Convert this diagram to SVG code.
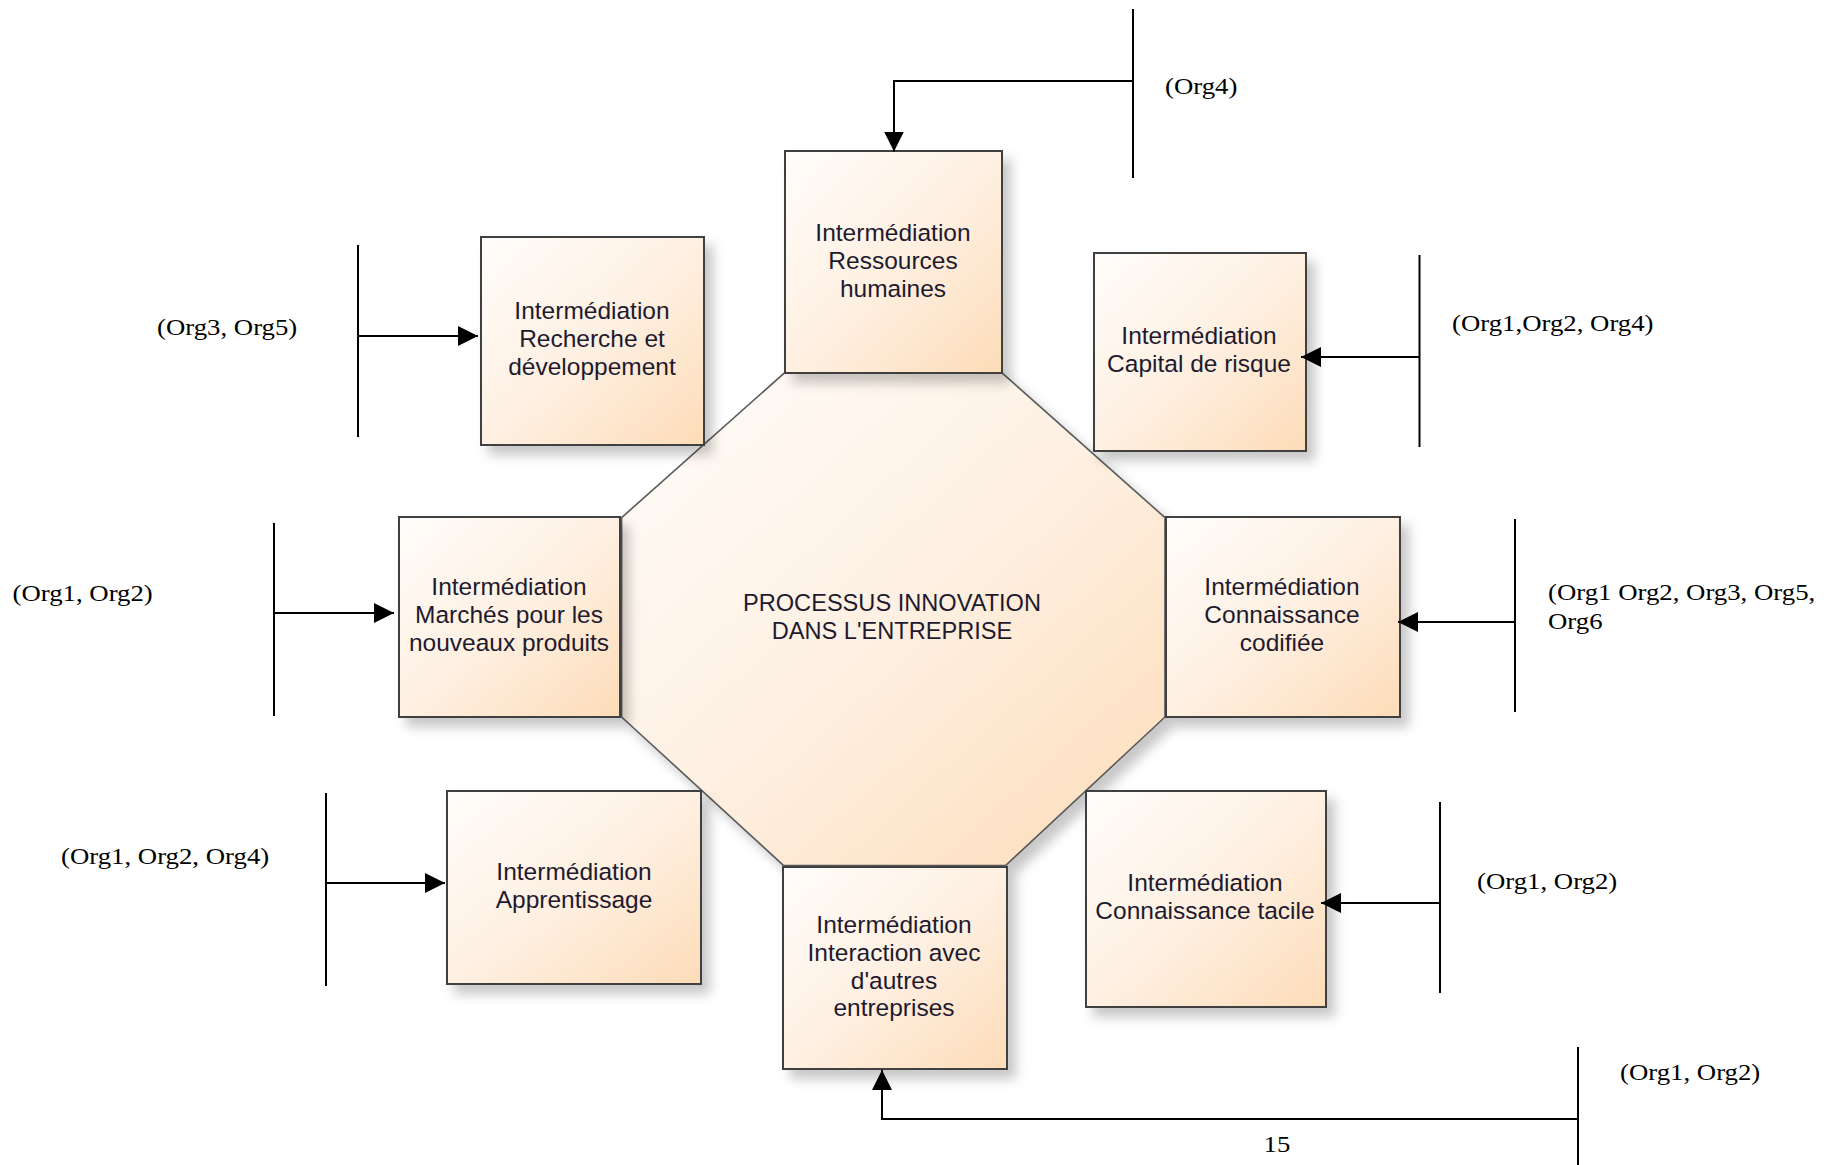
<svg xmlns="http://www.w3.org/2000/svg" width="1839" height="1165" viewBox="0 0 1839 1165">
<style>
.box{fill:url(#peach);stroke:#3f3f3f;stroke-width:2;filter:url(#sh)}
.oct{fill:url(#peach);stroke:#5a5a5a;stroke-width:1.6;filter:url(#sh)}
.bt{font-family:"Liberation Sans",Arial,sans-serif;font-size:24.5px;fill:#1e1a2e;text-anchor:middle}
.ot{font-family:"Liberation Sans",Arial,sans-serif;font-size:23.6px;fill:#1e1a2e;text-anchor:middle}
.lb{font-family:"Liberation Serif","Times New Roman",serif;font-size:22.7px;fill:#000}
.ln{fill:none;stroke:#000;stroke-width:2}
</style>
<defs>
<linearGradient id="peach" x1="0" y1="0" x2="1" y2="1">
<stop offset="0" stop-color="#fffdfb"/>
<stop offset="0.5" stop-color="#fef0e2"/>
<stop offset="1" stop-color="#fddcb8"/>
</linearGradient>
<filter id="sh" x="-10%" y="-10%" width="130%" height="130%">
<feDropShadow dx="8" dy="9" stdDeviation="6" flood-color="#000" flood-opacity="0.22"/>
</filter>
<marker id="ah" markerUnits="userSpaceOnUse" markerWidth="20" markerHeight="20" refX="20" refY="10" orient="auto">
<path d="M0,0 L20,10 L0,20 Z" fill="#000"/>
</marker>
</defs>
<rect width="1839" height="1165" fill="#fff"/>

<g id="center">
<polygon class="oct" points="784.5,372.8 1002,372.8 1165,517.7 1165,717 1005.5,865.6 783.7,865.6 621.6,717 621.6,517.7"/>
<text class="ot" x="892" y="610.5">PROCESSUS INNOVATION</text>
<text class="ot" x="892" y="639">DANS L'ENTREPRISE</text>
</g>

<g id="rh">
<rect class="box" x="785" y="151" width="217" height="222"/>
<text class="bt" x="893" y="240.5">Intermédiation</text>
<text class="bt" x="893" y="268.5">Ressources</text>
<text class="bt" x="893" y="296.5">humaines</text>
</g>

<g id="rd">
<rect class="box" x="481" y="237" width="223" height="208"/>
<text class="bt" x="592" y="318.5">Intermédiation</text>
<text class="bt" x="592" y="346.5">Recherche et</text>
<text class="bt" x="592" y="374.5">développement</text>
</g>

<g id="cr">
<rect class="box" x="1094" y="253" width="212" height="198"/>
<text class="bt" x="1199" y="344">Intermédiation</text>
<text class="bt" x="1199" y="372">Capital de risque</text>
</g>

<g id="mp">
<rect class="box" x="399" y="517" width="221" height="200"/>
<text class="bt" x="509" y="594.5">Intermédiation</text>
<text class="bt" x="509" y="622.5">Marchés pour les</text>
<text class="bt" x="509" y="650.5">nouveaux produits</text>
</g>

<g id="cc">
<rect class="box" x="1166" y="517" width="234" height="200"/>
<text class="bt" x="1282" y="594.5">Intermédiation</text>
<text class="bt" x="1282" y="622.5">Connaissance</text>
<text class="bt" x="1282" y="650.5">codifiée</text>
</g>

<g id="ap">
<rect class="box" x="447" y="791" width="254" height="193"/>
<text class="bt" x="574" y="879.5">Intermédiation</text>
<text class="bt" x="574" y="907.5">Apprentissage</text>
</g>

<g id="ia">
<rect class="box" x="783" y="867" width="224" height="202"/>
<text class="bt" x="894" y="932.5">Intermédiation</text>
<text class="bt" x="894" y="960.5">Interaction avec</text>
<text class="bt" x="894" y="988.5">d'autres</text>
<text class="bt" x="894" y="1015.5">entreprises</text>
</g>

<g id="ct">
<rect class="box" x="1086" y="791" width="240" height="216"/>
<text class="bt" x="1205" y="890.5">Intermédiation</text>
<text class="bt" x="1205" y="918.5">Connaissance tacile</text>
</g>

<g id="connectors">
<path class="ln" d="M1133,9 V178"/>
<path class="ln" d="M1133,81 H894 V151.5" marker-end="url(#ah)"/>
<path class="ln" d="M358,245 V437"/>
<path class="ln" d="M358,336 H478" marker-end="url(#ah)"/>
<path class="ln" d="M1419.5,255 V447"/>
<path class="ln" d="M1419.5,357 H1301" marker-end="url(#ah)"/>
<path class="ln" d="M274,523 V716"/>
<path class="ln" d="M274,613 H394" marker-end="url(#ah)"/>
<path class="ln" d="M1515,519 V712"/>
<path class="ln" d="M1515,622 H1398" marker-end="url(#ah)"/>
<path class="ln" d="M326,793 V986"/>
<path class="ln" d="M326,883 H445" marker-end="url(#ah)"/>
<path class="ln" d="M1440,802 V993"/>
<path class="ln" d="M1440,903 H1321" marker-end="url(#ah)"/>
<path class="ln" d="M1578,1047 V1165"/>
<path class="ln" d="M1578,1119 H882 V1070" marker-end="url(#ah)"/>
</g>

<g id="labels">
<text class="lb" transform="translate(1165,94) scale(1.18,1)">(Org4)</text>
<text class="lb" transform="translate(157,334.5) scale(1.18,1)">(Org3, Org5)</text>
<text class="lb" transform="translate(1452,330.5) scale(1.18,1)">(Org1,Org2, Org4)</text>
<text class="lb" transform="translate(12.5,600.5) scale(1.18,1)">(Org1, Org2)</text>
<text class="lb" transform="translate(1548,600) scale(1.18,1)">(Org1 Org2, Org3, Org5,<tspan x="0" dy="29.3">Org6</tspan></text>
<text class="lb" transform="translate(61,863.5) scale(1.18,1)">(Org1, Org2, Org4)</text>
<text class="lb" transform="translate(1477,888.5) scale(1.18,1)">(Org1, Org2)</text>
<text class="lb" transform="translate(1620,1080) scale(1.18,1)">(Org1, Org2)</text>
<text class="lb" text-anchor="middle" transform="translate(1277,1152) scale(1.18,1)">15</text>
</g>
</svg>
